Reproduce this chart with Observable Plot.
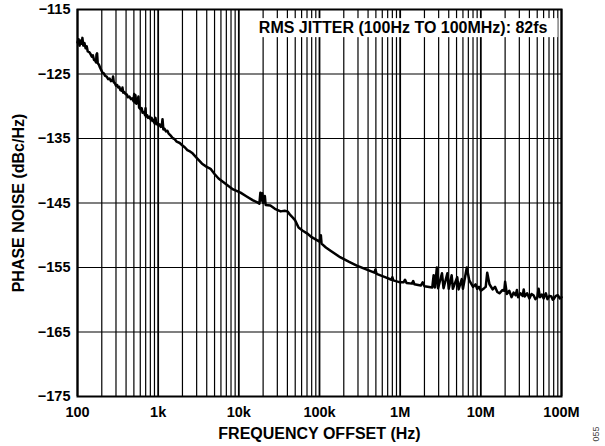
<!DOCTYPE html>
<html>
<head>
<meta charset="utf-8">
<script src="https://cdn.jsdelivr.net/npm/d3@7"></script>
<script src="https://cdn.jsdelivr.net/npm/@observablehq/plot@0.6"></script>
<style>
  html, body { margin: 0; padding: 0; background: #fff; }
  #chart { width: 605px; height: 446px; }
</style>
</head>
<body>
<div id="chart"></div>
<script>
// Frequency offset (Hz) and phase noise (dBc/Hz)
const freqHz = [
  100, 103, 106, 110, 113, 115, 118, 122, 126, 130, 134, 140, 145, 150, 155, 160, 165, 170, 172, 175,
  178, 185, 190, 197, 204, 212, 220, 230, 240, 250, 260, 272, 276, 282, 290, 300, 310, 320, 330, 340,
  355, 361, 368, 380, 394, 410, 420, 440, 460, 480, 494, 505, 512, 523, 535, 550, 570, 580, 610, 625,
  640, 665, 690, 697, 705, 730, 750, 780, 804, 830, 850, 875, 900, 927, 950, 980, 1010, 1045, 1080, 1110,
  1132, 1160, 1200, 1250, 1300, 1343, 1420, 1500, 1600, 1700, 1850, 2004, 2150, 2300, 2480, 2670,
  3000, 3500, 4000, 4460, 5000, 5600, 6460, 7500, 8500, 10500, 12500, 15000, 17000, 18000, 18500, 19000, 19500, 20000, 21000, 21500,
  24600, 28000, 33000, 37000, 40000, 43000, 47000, 50000, 55000, 62000, 70000, 80000, 94000, 100000, 104000, 106000, 120000, 137000, 180000, 230000,
  290000, 400000, 480000, 494000, 510000, 650000, 780000, 800000, 820000, 1000000, 1100000, 1150000, 1200000, 1400000, 1450000, 1500000, 1800000, 1900000, 2000000, 2500000,
  2600000, 2700000, 2850000, 2950000, 3300000, 3450000, 3850000, 4000000, 4350000, 4500000, 5100000, 5300000, 5800000, 6000000, 6700000, 7200000, 8000000, 8600000, 9000000, 9500000,
  10000000, 11000000, 11500000, 12000000, 12800000, 14000000, 15000000, 16000000, 17000000, 18500000, 19500000, 20000000, 21000000, 22500000, 24000000, 25500000, 27000000, 28000000, 29000000, 31000000,
  33000000, 34000000, 35000000, 37500000, 40000000, 42500000, 45000000, 47500000, 50000000, 52000000, 54000000, 57000000, 60000000, 62000000, 64000000, 67000000, 71000000, 75000000, 78000000, 80000000,
  85000000, 90000000, 95000000, 100000000
];
const phaseNoise = [
  -120.1, -119.6, -120.6, -119.8, -120.3, -119.4, -120.6, -120.2, -121.0, -120.7, -121.5, -121.6, -121.9, -122.3, -122.1, -122.8, -122.9, -123.2, -122.0, -121.8,
  -123.3, -123.6, -124.0, -124.4, -124.8, -124.9, -125.3, -125.4, -125.8, -125.7, -126.1, -126.0, -125.4, -126.3, -126.4, -126.8, -126.7, -127.1, -127.0, -127.5,
  -127.6, -127.1, -127.9, -127.8, -128.1, -128.2, -128.6, -128.5, -128.9, -128.8, -129.2, -128.1, -129.4, -128.3, -129.6, -129.5, -128.5, -130.2, -130.5, -130.3,
  -131.0, -130.9, -131.4, -130.3, -131.6, -131.4, -131.8, -131.6, -132.0, -131.8, -132.3, -132.1, -132.6, -131.8, -132.8, -132.6, -133.0, -132.8, -133.2, -133.0,
  -132.0, -133.6, -133.5, -133.9, -133.8, -134.2, -134.5, -134.9, -135.1, -135.5, -135.7, -136.1, -136.4, -136.8, -137.0, -137.3,
  -138.0, -138.9, -139.4, -139.7, -140.5, -141.2, -141.8, -142.4, -142.9, -143.4, -144.0, -144.6, -144.9, -145.1, -143.4, -144.6, -143.5, -145.0, -143.9, -145.3,
  -145.4, -145.9, -146.3, -146.2, -146.3, -146.8, -147.3, -147.7, -148.8, -149.3, -149.7, -150.3, -150.8, -151.0, -150.0, -151.3, -151.9, -152.4, -153.4, -154.1,
  -154.7, -155.4, -155.8, -155.3, -156.0, -156.5, -156.9, -156.5, -157.0, -157.3, -157.3, -156.9, -157.4, -157.5, -157.1, -157.6, -157.8, -157.3, -157.9, -158.1,
  -156.2, -158.1, -155.0, -158.2, -155.9, -158.2, -155.9, -158.3, -156.2, -158.3, -156.5, -158.4, -156.8, -158.3, -155.0, -157.0, -158.0, -157.6, -158.3, -158.0,
  -158.6, -158.2, -158.0, -155.8, -157.6, -158.4, -158.0, -158.8, -159.0, -158.5, -158.6, -157.2, -159.1, -158.6, -159.6, -158.9, -159.3, -158.5, -159.6, -159.0,
  -159.4, -158.4, -159.5, -159.0, -159.8, -159.1, -159.3, -159.9, -159.7, -158.3, -159.6, -159.2, -159.8, -159.3, -159.0, -159.9, -159.4, -159.5, -160.0, -159.9,
  -159.4, -159.3, -159.8, -159.6
];

const xTicks = [1e2, 1e3, 1e4, 1e5, 1e6, 1e7, 1e8];
const xTickLabels = ["100", "1k", "10k", "100k", "1M", "10M", "100M"];
const yTicks = [-115, -125, -135, -145, -155, -165, -175];
const yTickLabels = ["\u2212115", "\u2212125", "\u2212135", "\u2212145", "\u2212155", "\u2212165", "\u2212175"];
const gridMultipliers = [1, 2, 3, 4, 5, 6, 7, 8, 9];
const annotation = "RMS JITTER (100Hz TO 100MHz): 82fs";
const xTitle = "FREQUENCY OFFSET (Hz)";
const yTitle = "PHASE NOISE (dBc/Hz)";
const figureId = "055";

const data = freqHz.map((f, i) => ({f, pn: phaseNoise[i]}));
const xGrid = [];
for (let d = 2; d < 8; d++) for (const m of gridMultipliers) xGrid.push({f: m * 10 ** d, major: m === 1});
xGrid.push({f: 1e8, major: true});

const font = "'Liberation Sans', Arial, Helvetica, sans-serif";

const chart = Plot.plot({
  width: 605,
  height: 446,
  marginLeft: 77,
  marginRight: 44,
  marginTop: 9,
  marginBottom: 50,
  style: {fontFamily: font, background: "#fff", color: "#000"},
  x: {type: "log", domain: [1e2, 1e8]},
  y: {domain: [-175, -115]},
  marks: [
    Plot.ruleX(xGrid, {x: "f", stroke: "#000", strokeWidth: d => d.major ? 1.8 : 1.2}),
    Plot.ruleY(yTicks.slice(1, -1), {stroke: "#000", strokeWidth: 1.2}),
    Plot.line(data, {x: "f", y: "pn", stroke: "#000", strokeWidth: 2.5, strokeLinejoin: "round"}),
    Plot.text([annotation], {
      frameAnchor: "top-right", dx: -14, dy: 18.5, text: d => d,
      textAnchor: "end", lineAnchor: "middle", fontSize: 16, fontWeight: "bold", fill: "#000"
    }),
    Plot.frame({stroke: "#000", strokeWidth: 2}),
    Plot.axisX(xTicks, {
      tickSize: 0, tickPadding: 10, fontSize: 14.5, fontWeight: "bold", label: null,
      tickFormat: d => xTickLabels[xTicks.indexOf(d)]
    }),
    Plot.axisY(yTicks, {
      tickSize: 0, tickPadding: 7, fontSize: 14.5, fontWeight: "bold", label: null,
      tickFormat: d => yTickLabels[yTicks.indexOf(d)]
    }),
    Plot.text([xTitle], {frameAnchor: "bottom", dy: 37, text: d => d, fontSize: 16, fontWeight: "bold", lineAnchor: "middle", textAnchor: "middle"}),
    Plot.text([yTitle], {frameAnchor: "left", dx: -59, text: d => d, rotate: -90, fontSize: 16, fontWeight: "bold", lineAnchor: "middle", textAnchor: "middle"})
  ]
});

document.getElementById("chart").appendChild(chart);

// white box behind the annotation
const ns = "http://www.w3.org/2000/svg";
for (const t of chart.querySelectorAll("text")) {
  if (t.textContent !== annotation) continue;
  const bb = t.getBBox();
  const r = document.createElementNS(ns, "rect");
  r.setAttribute("x", bb.x - 3);
  r.setAttribute("y", bb.y - 1);
  r.setAttribute("width", bb.width + 13);
  r.setAttribute("height", bb.height + 2);
  r.setAttribute("fill", "#fff");
  const tr = t.getAttribute("transform");
  if (tr) r.setAttribute("transform", tr);
  t.parentNode.insertBefore(r, t);
}

// figure id in the bottom-right corner
d3.select(chart).append("text")
  .attr("transform", "translate(597,434) rotate(-90)")
  .attr("text-anchor", "middle")
  .attr("dominant-baseline", "middle")
  .attr("font-size", 9)
  .attr("fill", "#444")
  .attr("font-family", font)
  .text(figureId);
</script>
</body>
</html>
